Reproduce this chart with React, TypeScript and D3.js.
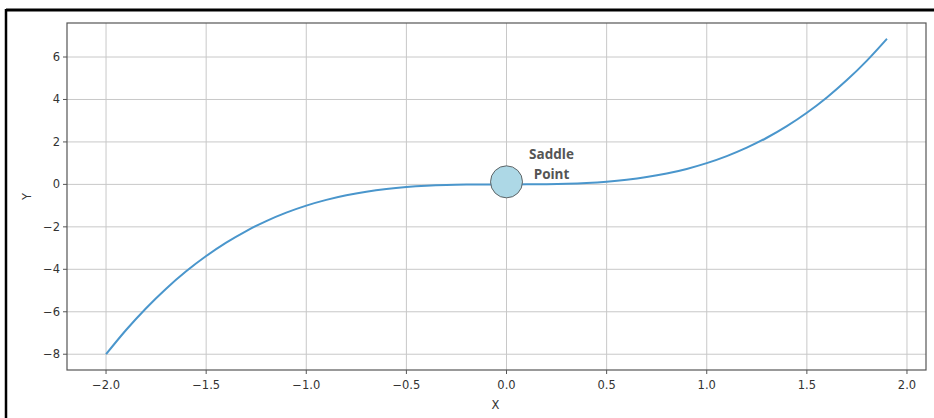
import React from "react";
import * as d3 from "d3";

// Sampled curve y = x³ between -2.0 and 1.9
const xValues = [
  -2.0, -1.9, -1.8, -1.7, -1.6, -1.5, -1.4, -1.3, -1.2, -1.1, -1.0, -0.9, -0.8,
  -0.7, -0.6, -0.5, -0.4, -0.3, -0.2, -0.1, 0.0, 0.1, 0.2, 0.3, 0.4, 0.5, 0.6,
  0.7, 0.8, 0.9, 1.0, 1.1, 1.2, 1.3, 1.4, 1.5, 1.6, 1.7, 1.8, 1.9,
];
const yValues = [
  -8.0, -6.859, -5.832, -4.913, -4.096, -3.375, -2.744, -2.197, -1.728, -1.331,
  -1.0, -0.729, -0.512, -0.343, -0.216, -0.125, -0.064, -0.027, -0.008, -0.001,
  0.0, 0.001, 0.008, 0.027, 0.064, 0.125, 0.216, 0.343, 0.512, 0.729, 1.0, 1.331,
  1.728, 2.197, 2.744, 3.375, 4.096, 4.913, 5.832, 6.859,
];
const xTicks = [-2.0, -1.5, -1.0, -0.5, 0.0, 0.5, 1.0, 1.5, 2.0];
const yTicks = [-8, -6, -4, -2, 0, 2, 4, 6];
const markerPoint = [0.0, 0.12];
const markerLabel = ["Saddle", "Point"];

const W = 934;
const H = 418;
const plot = { left: 67, top: 23, right: 926, bottom: 370 };

const fmt = (v: number) => (v < 0 ? "\u2212" : "") + Math.abs(v).toFixed(1);
const fmtInt = (v: number) => (v < 0 ? "\u2212" : "") + Math.abs(v).toString();

export default function App() {
  const xExt = d3.extent(xValues) as [number, number];
  const yExt = d3.extent(yValues) as [number, number];
  const xPad = (xExt[1] - xExt[0]) * 0.05;
  const yPad = (yExt[1] - yExt[0]) * 0.05;
  const x = d3
    .scaleLinear()
    .domain([xExt[0] - xPad, xExt[1] + xPad])
    .range([plot.left, plot.right]);
  const y = d3
    .scaleLinear()
    .domain([yExt[0] - yPad, yExt[1] + yPad])
    .range([plot.bottom, plot.top]);

  const pts = xValues.map((v, i) => [v, yValues[i]] as [number, number]);
  const line = d3
    .line<[number, number]>()
    .x((d) => x(d[0]))
    .y((d) => y(d[1]))
    .curve(d3.curveMonotoneX);

  const tickFont = { fontFamily: "DejaVu Sans, sans-serif", fontSize: 11.5, fill: "#333" };
  const cx = x(markerPoint[0]);
  const cy = y(markerPoint[1]);

  return (
    <svg
      width={W}
      height={H}
      style={{ position: "absolute", left: 0, top: 0, background: "#fff" }}
    >
      {/* outer frame */}
      <line x1={6} x2={W} y1={10} y2={10} stroke="#000" strokeWidth={3} />
      <line x1={6} x2={6} y1={9} y2={H} stroke="#000" strokeWidth={2.5} />

      {/* grid */}
      {xTicks.map((t) => (
        <line
          key={"gx" + t}
          x1={x(t)}
          x2={x(t)}
          y1={plot.top}
          y2={plot.bottom}
          stroke="#c8c8c8"
          strokeWidth={1}
        />
      ))}
      {yTicks.map((t) => (
        <line
          key={"gy" + t}
          x1={plot.left}
          x2={plot.right}
          y1={y(t)}
          y2={y(t)}
          stroke="#c8c8c8"
          strokeWidth={1}
        />
      ))}

      {/* curve */}
      <path d={line(pts) ?? ""} fill="none" stroke="#4a96cc" strokeWidth={2} />

      {/* saddle point marker */}
      <circle cx={cx} cy={cy} r={16} fill="#add8e6" stroke="#444" strokeWidth={0.8} />
      {markerLabel.map((s, i) => (
        <text
          key={s}
          x={cx + 45}
          y={cy - 23 + i * 20}
          textAnchor="middle"
          fontFamily="Open Sans, sans-serif"
          fontWeight="bold"
          fontSize={13.5}
          fill="#555"
        >
          {s}
        </text>
      ))}

      {/* axes frame */}
      <rect
        x={plot.left}
        y={plot.top}
        width={plot.right - plot.left}
        height={plot.bottom - plot.top}
        fill="none"
        stroke="#555"
        strokeWidth={1.2}
      />

      {/* x ticks */}
      {xTicks.map((t) => (
        <g key={"tx" + t}>
          <line x1={x(t)} x2={x(t)} y1={plot.bottom} y2={plot.bottom + 4} stroke="#555" />
          <text x={x(t)} y={plot.bottom + 19} textAnchor="middle" {...tickFont}>
            {fmt(t)}
          </text>
        </g>
      ))}
      {/* y ticks */}
      {yTicks.map((t) => (
        <g key={"ty" + t}>
          <line x1={plot.left - 4} x2={plot.left} y1={y(t)} y2={y(t)} stroke="#555" />
          <text
            x={plot.left - 7}
            y={y(t)}
            dy="0.35em"
            textAnchor="end"
            {...tickFont}
          >
            {fmtInt(t)}
          </text>
        </g>
      ))}

      {/* axis labels */}
      <text x={(plot.left + plot.right) / 2 - 1} y={409} textAnchor="middle" {...tickFont}>
        X
      </text>
      <text
        transform={`translate(31, ${(plot.top + plot.bottom) / 2}) rotate(-90)`}
        textAnchor="middle"
        {...tickFont}
      >
        Y
      </text>
    </svg>
  );
}
